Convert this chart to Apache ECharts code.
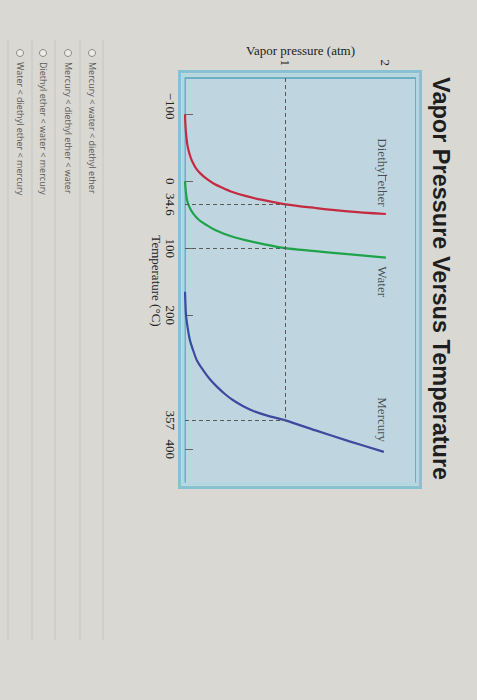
<!DOCTYPE html>
<html>
<head>
<meta charset="utf-8">
<script src="https://cdn.jsdelivr.net/npm/echarts@6/dist/echarts.min.js"></script>
<style>
  html, body { margin: 0; padding: 0; width: 477px; height: 700px; overflow: hidden; background: #d9d8d2; }
  #chart { position: absolute; left: 0; top: 0; width: 700px; height: 477px;
           transform-origin: 0 0; transform: translate(477px, 0) rotate(90deg); }
</style>
</head>
<body>
<div id="chart"></div>
<script>
// ---- data ----
const etherT   = [-100, -85, -72, -58, -46, -36, -27, -19, -12, -4, 3, 9, 15, 22, 28, 34.6, 40, 45, 49];
const etherP   = [0, 0.004, 0.01, 0.02, 0.035, 0.055, 0.08, 0.11, 0.15, 0.21, 0.28, 0.36, 0.45, 0.6, 0.77, 1.0, 1.3, 1.62, 2.0];
const waterT   = [0, 15, 28, 39, 48, 58, 66, 73, 78, 84, 88, 94, 100, 104, 109, 114];
const waterP   = [0, 0.008, 0.02, 0.045, 0.08, 0.14, 0.22, 0.3, 0.38, 0.5, 0.6, 0.78, 1.0, 1.27, 1.62, 2.0];
const mercuryT = [165, 185, 200, 212, 222, 238, 252, 268, 282, 296, 307, 318, 327, 336, 343, 350, 357, 372, 388, 404];
const mercuryP = [0, 0.005, 0.01, 0.02, 0.03, 0.05, 0.08, 0.12, 0.18, 0.25, 0.32, 0.4, 0.48, 0.58, 0.68, 0.82, 1.0, 1.3, 1.63, 1.98];
const boilingT = [34.6, 100, 357];
const boilingP = 1;
const tempTickLabels = [-100, 0, 34.6, 100, 200, 357, 400];
const tempTicks = [-100, 0, 100, 200, 400];
const pressureLabels = [1, 2];
const curveNames = ['Diethyl ether', 'Water', 'Mercury'];
const curveLabelT = [-13, 150, 356];
const curveLabelP = [1.97, 1.97, 1.97];
const choices = [
  'Mercury < water < diethyl ether',
  'Mercury < diethyl ether < water',
  'Diethyl ether < water < mercury',
  'Water < diethyl ether < mercury'
];

const serif = 'Liberation Serif, Times New Roman, serif';
const zip = (a, b) => a.map((v, i) => [v, b[i]]);

const guideLines = [[{ coord: [-154, boilingP] }, { coord: [boilingT[2], boilingP] }]]
  .concat(boilingT.map(t => [{ coord: [t, 0] }, { coord: [t, boilingP] }]));

const choiceRows = [385, 409, 434, 457];
const sepRows = [374, 397, 422, 445, 469];
const graphics = [
  { type: 'rect', shape: { x: 71.5, y: 56.5, width: 416, height: 241 }, style: { fill: 'none', stroke: '#86c2d2', lineWidth: 3 }, silent: true },
  { type: 'rect', shape: { x: 75, y: 59.5, width: 409, height: 234.5 }, style: { fill: 'none', stroke: '#b0d8e2', lineWidth: 3 }, silent: true }
];
sepRows.forEach(v => graphics.push({ type: 'line', shape: { x1: 40, y1: v, x2: 640, y2: v }, style: { stroke: '#c6c6c0', lineWidth: 1 }, silent: true }));
choices.forEach((c, i) => {
  graphics.push({ type: 'circle', shape: { cx: 53, cy: choiceRows[i], r: 3.5 }, style: { fill: '#ebebe7', stroke: '#8a8a86', lineWidth: 1 }, silent: true });
  graphics.push({ type: 'text', x: 62, y: choiceRows[i], style: { text: c, font: '9px "Open Sans", sans-serif', fill: '#5a5a58', textVerticalAlign: 'middle' }, silent: true });
});

const chart = echarts.init(document.getElementById('chart'), null, { renderer: 'svg' });
chart.setOption({
  animation: false,
  backgroundColor: '#d9d8d2',
  title: {
    text: 'Vapor Pressure Versus Temperature',
    left: 72, top: 19,
    textStyle: { fontFamily: 'Liberation Sans, Arial, sans-serif', fontWeight: 'bold', fontSize: 23.5, color: '#1e1e1e' }
  },
  graphic: { elements: graphics },
  grid: { left: 78, top: 61, width: 406, height: 231, show: true, backgroundColor: '#bfd6e0', borderColor: '#6aafc4', borderWidth: 2 },
  xAxis: {
    type: 'value', min: -154, max: 452,
    splitLine: { show: false },
    axisLine: { show: false },
    axisTick: { show: true, inside: true, length: 8, customValues: tempTicks, lineStyle: { color: '#666', width: 1 } },
    axisLabel: {
      customValues: tempTickLabels, margin: 8,
      fontFamily: serif, fontSize: 13, color: '#222',
      formatter: v => v < 0 ? '{m|−' + Math.abs(v) + '}' : String(v),
      rich: { m: { fontFamily: serif, fontSize: 13, color: '#222', padding: [0, 16, 0, 0] } }
    },
    name: 'Temperature (°C)', nameLocation: 'middle', nameGap: 22, nameMoveOverlap: false,
    nameTextStyle: { fontFamily: serif, fontSize: 13, color: '#222' }
  },
  yAxis: {
    type: 'value', min: 0, max: 2.3, interval: 1,
    splitLine: { show: false },
    axisLine: { show: false },
    axisTick: { show: true, length: 6, customValues: [2], lineStyle: { color: '#666' } },
    axisLabel: { customValues: pressureLabels, margin: 12, fontFamily: serif, fontSize: 13, color: '#222' },
    name: 'Vapor pressure (atm)', nameLocation: 'middle', nameGap: 21, nameRotate: 90, nameMoveOverlap: false,
    nameTextStyle: { fontFamily: serif, fontSize: 13, color: '#222' }
  },
  series: [
    {
      type: 'line', name: curveNames[0], data: zip(etherT, etherP), showSymbol: false, symbol: 'none',
      smooth: 0.3, lineStyle: { color: '#c42a40', width: 2.2 }, z: 3,
      markLine: {
        silent: true, symbol: ['none', 'none'], label: { show: false },
        lineStyle: { color: '#5a5a5a', width: 1, type: [4, 3] },
        data: guideLines
      }
    },
    { type: 'line', name: curveNames[1], data: zip(waterT, waterP), showSymbol: false, symbol: 'none',
      smooth: 0.3, lineStyle: { color: '#1ea34a', width: 2.2 }, z: 3 },
    { type: 'line', name: curveNames[2], data: zip(mercuryT, mercuryP), showSymbol: false, symbol: 'none',
      smooth: 0.3, lineStyle: { color: '#3d4aa0', width: 2.2 }, z: 3 },
    {
      type: 'scatter', symbolSize: 1, itemStyle: { color: 'rgba(0,0,0,0)' },
      data: curveNames.map((n, i) => [curveLabelT[i], curveLabelP[i], n]),
      label: { show: true, position: 'inside', formatter: p => p.value[2], fontFamily: serif, fontSize: 13, color: '#2a2a2a' }
    }
  ]
});
</script>
</body>
</html>
